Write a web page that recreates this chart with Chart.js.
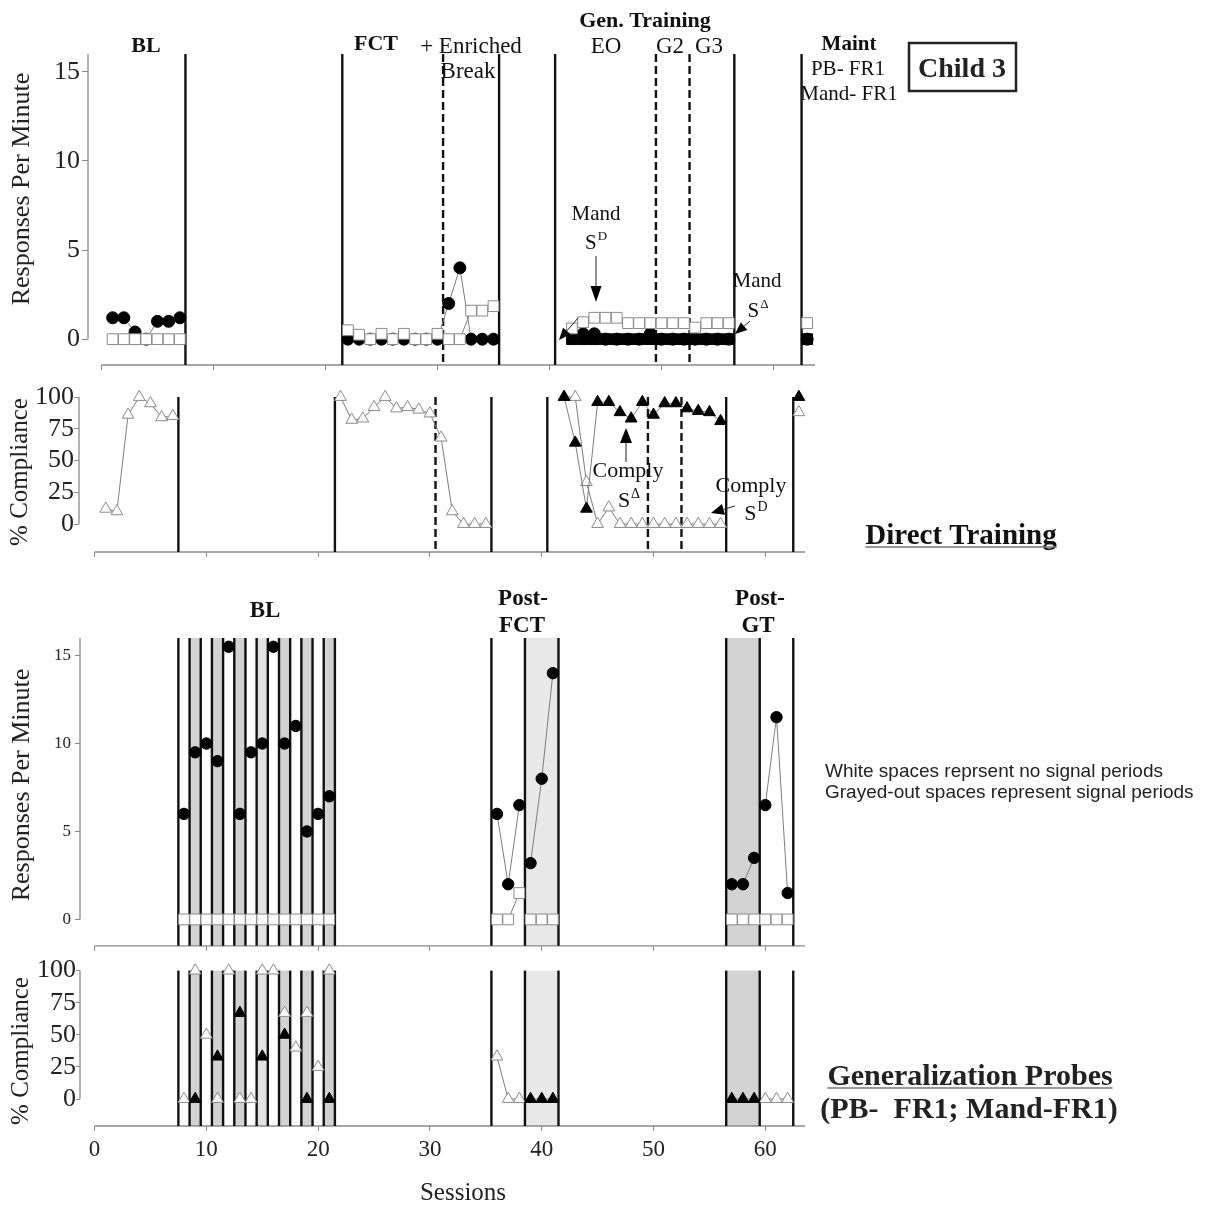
<!DOCTYPE html>
<html>
<head>
<meta charset="utf-8">
<script src="https://cdn.jsdelivr.net/npm/chart.js@4.4.0/dist/chart.umd.min.js"></script>
<style>
  html, body { margin: 0; padding: 0; background: #fff; }
  #page { position: relative; width: 1205px; height: 1207px; overflow: hidden; background: #fff; }
  #page canvas { position: absolute; left: 0; }
</style>
</head>
<body>
<div id="page">
  <canvas id="dtRate" width="1205" height="390" style="top:0px"></canvas>
  <canvas id="dtComply" width="1205" height="200" style="top:370px"></canvas>
  <canvas id="gpRate" width="1205" height="400" style="top:560px"></canvas>
  <canvas id="gpComply" width="1205" height="252" style="top:955px"></canvas>
</div>
<script>
// ---- ticks ----
const xTicks = [0, 10, 20, 30, 40, 50, 60];
const rateTicks = [0, 5, 10, 15];
const complyTicks = [0, 25, 50, 75, 100];

// ---- direct training: sessions per phase ----
const dtBLSessions = [1, 2, 3, 4, 5, 6, 7];
const dtFCTSessions = [22, 23, 24, 25, 26, 27, 28, 29, 30, 31, 32, 33, 34, 35];
const dtGTSessions = [42, 43, 44, 45, 46, 47, 48, 49, 50, 51, 52, 53, 54, 55, 56];
const dtMaintSessions = [63];

// problem behaviour per minute (filled circles)
const pbBL = [1.2, 1.2, 0.4, 0, 1.0, 1.0, 1.2];
const pbFCT = [0, 0, 0, 0, 0, 0, 0, 0, 0, 2.0, 4.0, 0, 0, 0];
const pbGT = [0.3, 0.3, 0.3, 0, 0, 0, 0, 0.3, 0, 0, 0, 0, 0, 0, 0];
const pbMaint = [0];

// mands per minute in SD (open squares)
const mandBL = [0, 0, 0, 0, 0, 0, 0];
const mandFCT = [0.5, 0.25, 0, 0.3, 0, 0.3, 0, 0, 0.3, 0, 0, 1.6, 1.6, 1.85];
const mandGTsd = [0.6, 0.95, 1.2, 1.2, 1.2, 0.9, 0.9, 0.9, 0.9, 0.9, 0.9, 0.65, 0.9, 0.9, 0.9];
const mandMaintSd = [0.9];

// mands per minute in S-delta (filled squares)
const mandGTsdelta = [0, 0, 0, 0, 0, 0, 0, 0, 0, 0, 0, 0, 0, 0, 0];
const mandMaintSdelta = [0];

// % compliance (open triangles = SD / no signal, filled = S-delta)
const compBL = [12, 10, 86, 100, 95, 84, 85];
const compFCT = [100, 82, 83, 92, 100, 91, 92, 90, 87, 68, 10, 0, 0, 0];
const compGTsd = [100, 100, 33, 0, 13, 0, 0, 0, 0, 0, 0, 0, 0, 0, 0];
const compGTsdelta = [100, 64, 12, 96, 96, 88, 83, 96, 86, 95, 95, 91, 89, 88, 81];
const compMaintSd = [88];
const compMaintSdelta = [100];

// ---- generalization probes ----
const gpBLSessions = [8, 9, 10, 11, 12, 13, 14, 15, 16, 17, 18, 19, 20, 21];
const gpBLRate = [6, 9.5, 10, 9, 15.5, 6, 9.5, 10, 15.5, 10, 11, 5, 6, 7];
const gpBLMand = [0, 0, 0, 0, 0, 0, 0, 0, 0, 0, 0, 0, 0, 0];
const gpBLComp = [0, 100, 50, 0, 100, 0, 0, 100, 100, 67, 40, 67, 25, 100];
const gpBLSignalSessions = [9, 11, 13, 15, 17, 19, 21];
const gpBLSignalComp = [0, 33, 67, 33, 50, 0, 0];

const postFCTNoSigSessions = [36, 37, 38];
const postFCTSigSessions = [39, 40, 41];
const postGTSigSessions = [57, 58, 59];
const postGTNoSigSessions = [60, 61, 62];

const postFCTNoSigRate = [6, 2, 6.5];
const postFCTSigRate = [3.2, 8, 14];
const postGTSigRate = [2, 2, 3.5];
const postGTNoSigRate = [6.5, 11.5, 1.5];

const postFCTNoSigMand = [0, 0, 1.5];
const postFCTSigMand = [0, 0, 0];
const postGTSigMand = [0, 0, 0];
const postGTNoSigMand = [0, 0, 0];

const postFCTNoSigComp = [33, 0, 0];
const postFCTSigComp = [0, 0, 0];
const postGTSigComp = [0, 0, 0];
const postGTNoSigComp = [0, 0, 0];

// ---- phase / condition change lines ----
const dtPhaseLines = [7.5, 21.5, 35.5, 40.5, 56.5, 62.5];
const dtConditionLines = [30.5, 49.5, 52.5];
const gpPhaseLines = [7.5, 8.5, 9.5, 10.5, 11.5, 12.5, 13.5, 14.5, 15.5, 16.5, 17.5, 18.5, 19.5, 20.5, 21.5,
                      35.5, 38.5, 41.5, 56.5, 59.5, 62.5];
const gpSignalSpans = [[8.5, 9.5], [10.5, 11.5], [12.5, 13.5], [14.5, 15.5], [16.5, 17.5], [18.5, 19.5],
                       [20.5, 21.5], [38.5, 41.5], [56.5, 59.5]];

const serif = "'Liberation Serif', 'Times New Roman', serif";
const sans = "'Liberation Sans', Arial, sans-serif";
const shadeColors = ['#d2d2d2', '#d2d2d2', '#d2d2d2', '#e2e2e2', '#d2d2d2', '#d2d2d2', '#d2d2d2', '#e8e8e8', '#d3d3d3'];

function seg(sessions, values) {
    return sessions.map((s, i) => ({ x: s, y: values[i] }));
}

function joinSegs(...segs) {
    const out = [];
    segs.forEach((sg, i) => {
        if (i) out.push({ x: sg[0].x - 0.5, y: null });
        out.push(...sg);
    });
    return out;
}

const marks = {
    circle: { shape: 'circle', r: 6, fill: '#000', edge: '#000' },
    openSquare: { shape: 'rect', r: 7.6, fill: '#fff', edge: '#8a8a8a' },
    square: { shape: 'rect', r: 7.6, fill: '#000', edge: '#000' },
    openTri: { shape: 'triangle', r: 6.8, fill: '#fff', edge: '#8a8a8a' },
    tri: { shape: 'triangle', r: 6.8, fill: '#000', edge: '#000' }
};

function series(data, mark, showLine = true, r) {
    const m = marks[mark];
    return {
        data: data,
        showLine: showLine,
        borderColor: '#7c7c7c',
        borderWidth: 1,
        pointStyle: m.shape,
        pointRadius: r || m.r,
        pointBackgroundColor: m.fill,
        pointBorderColor: m.edge,
        pointBorderWidth: 1,
        spanGaps: false,
        clip: false
    };
}

function axes(c) {
    return {
        x: {
            type: 'linear', min: c.xmin, max: c.xmax,
            border: { display: false },
            grid: { display: true, drawOnChartArea: false, drawTicks: true, tickLength: 5, color: '#8a8a8a' },
            ticks: { display: !!c.xLabels, font: { family: serif, size: 23 }, color: '#222', padding: 5 },
            afterBuildTicks: s => { s.ticks = xTicks.map(v => ({ value: v })); },
            afterFit: s => { s.height = c.xh; }
        },
        y: {
            type: 'linear', min: c.ymin, max: c.ymax,
            border: { display: false },
            grid: { display: true, drawOnChartArea: false, drawTicks: true, tickLength: c.tl, color: '#8a8a8a' },
            ticks: { font: { family: serif, size: c.ysize }, color: '#222', padding: c.ypad },
            afterBuildTicks: s => { s.ticks = c.yTicks.map(v => ({ value: v })); },
            afterFit: s => { s.width = c.yw; }
        }
    };
}

function drawText(ctx, it, dy) {
    ctx.save();
    const size = it.size || 22;
    const color = it.color || '#111';
    const font = (it.bold ? 'bold ' : '') + size + 'px ' + (it.family || serif);
    ctx.fillStyle = color;
    ctx.font = font;
    ctx.textBaseline = 'alphabetic';
    const y = it.y - dy;
    if (it.rot) {
        ctx.translate(it.x, y);
        ctx.rotate(-Math.PI / 2);
        ctx.textAlign = 'center';
        ctx.fillText(it.t, 0, 0);
        ctx.restore();
        return;
    }
    const w = ctx.measureText(it.t).width;
    let supW = 0;
    const supFont = Math.round(size * 0.62) + 'px ' + serif;
    if (it.sup) {
        ctx.font = supFont;
        supW = ctx.measureText(it.sup).width + 1;
        ctx.font = font;
    }
    const left = it.align === 'left' ? it.x : it.x - (w + supW) / 2;
    ctx.textAlign = 'left';
    ctx.fillText(it.t, left, y);
    if (it.sup) {
        ctx.font = supFont;
        ctx.fillText(it.sup, left + w + 1, y - size * 0.42);
    }
    if (it.underline) {
        ctx.strokeStyle = '#777';
        ctx.lineWidth = 1.5;
        ctx.beginPath();
        ctx.moveTo(left, y + 3);
        ctx.lineTo(left + w, y + 3);
        ctx.stroke();
    }
    ctx.restore();
}

function drawArrow(ctx, a, dy) {
    const x1 = a.from[0], y1 = a.from[1] - dy, x2 = a.to[0], y2 = a.to[1] - dy;
    const ang = Math.atan2(y2 - y1, x2 - x1);
    const L = a.head || 14, W = a.w || 5.5;
    const bx = x2 - L * Math.cos(ang), by = y2 - L * Math.sin(ang);
    ctx.save();
    ctx.strokeStyle = '#222';
    ctx.fillStyle = '#000';
    ctx.lineWidth = 1;
    ctx.beginPath();
    ctx.moveTo(x1, y1);
    ctx.lineTo(bx, by);
    ctx.stroke();
    ctx.beginPath();
    ctx.moveTo(x2, y2);
    ctx.lineTo(bx - W * Math.sin(ang), by + W * Math.cos(ang));
    ctx.lineTo(bx + W * Math.sin(ang), by - W * Math.cos(ang));
    ctx.closePath();
    ctx.fill();
    ctx.restore();
}

const decor = {
    id: 'decor',
    beforeDatasetsDraw(chart, args, o) {
        const { ctx, chartArea: a, scales: { x, y } } = chart;
        ctx.save();
        (o.shades || []).forEach((sp, i) => {
            const x1 = x.getPixelForValue(sp[0]), x2 = x.getPixelForValue(sp[1]);
            ctx.fillStyle = shadeColors[i];
            ctx.fillRect(x1, a.top, x2 - x1, a.bottom - a.top);
        });
        // detached axis lines
        ctx.strokeStyle = '#8a8a8a';
        ctx.lineWidth = 1.3;
        ctx.beginPath();
        ctx.moveTo(a.left, a.top);
        ctx.lineTo(a.left, y.getPixelForValue(0));
        ctx.moveTo(x.getPixelForValue(0), a.bottom);
        ctx.lineTo(a.right, a.bottom);
        ctx.stroke();
        // phase change lines
        ctx.strokeStyle = '#111';
        ctx.lineWidth = 2.4;
        (o.lines || []).forEach(v => {
            const px = x.getPixelForValue(v);
            ctx.beginPath();
            ctx.moveTo(px, a.top);
            ctx.lineTo(px, a.bottom);
            ctx.stroke();
        });
        ctx.setLineDash([8, 4]);
        (o.dashed || []).forEach(v => {
            const px = x.getPixelForValue(v);
            ctx.beginPath();
            ctx.moveTo(px, a.top);
            ctx.lineTo(px, a.bottom);
            ctx.stroke();
        });
        ctx.restore();
    },
    afterDraw(chart, args, o) {
        const ctx = chart.ctx;
        const dy = o.top || 0;
        (o.texts || []).forEach(t => drawText(ctx, t, dy));
        (o.arrows || []).forEach(a => drawArrow(ctx, a, dy));
        (o.boxes || []).forEach(b => {
            ctx.save();
            ctx.strokeStyle = '#222';
            ctx.lineWidth = 2.5;
            ctx.strokeRect(b.x, b.y - dy, b.w, b.h);
            ctx.restore();
        });
    }
};

function makeChart(id, canvasH, area, scaleCfg, datasets, decorCfg) {
    return new Chart(document.getElementById(id), {
        type: 'scatter',
        data: { datasets: datasets },
        options: {
            responsive: false,
            animation: false,
            devicePixelRatio: 1,
            layout: { padding: { left: 0, right: 1205 - area.right, top: area.top, bottom: 0 } },
            plugins: { legend: { display: false }, tooltip: { enabled: false }, decor: decorCfg },
            scales: axes(Object.assign({ yw: area.left, xh: canvasH - area.bottom }, scaleCfg))
        },
        plugins: [decor]
    });
}

// ---- panel 1: direct training, responses per minute ----
makeChart('dtRate', 390, { left: 88, right: 815, top: 54, bottom: 365 },
    { xmin: -1.2, xmax: 63.7, ymin: -1.45, ymax: 16, yTicks: rateTicks, ysize: 26, tl: 6, ypad: 2 },
    [
        series(joinSegs(seg(dtBLSessions, mandBL), seg(dtFCTSessions, mandFCT), seg(dtGTSessions, mandGTsd),
            seg(dtMaintSessions, mandMaintSd)), 'openSquare'),
        series(joinSegs(seg(dtGTSessions, mandGTsdelta), seg(dtMaintSessions, mandMaintSdelta)), 'square'),
        series(joinSegs(seg(dtBLSessions, pbBL), seg(dtFCTSessions, pbFCT), seg(dtGTSessions, pbGT),
            seg(dtMaintSessions, pbMaint)), 'circle')
    ],
    {
        top: 0, lines: dtPhaseLines, dashed: dtConditionLines,
        texts: [
            { t: 'BL', x: 146, y: 52, bold: true, size: 22 },
            { t: 'FCT', x: 376, y: 50, bold: true, size: 22 },
            { t: '+ Enriched', x: 471, y: 53, size: 23 },
            { t: 'Break', x: 468, y: 78, size: 23 },
            { t: 'Gen. Training', x: 645, y: 27, bold: true, size: 22 },
            { t: 'EO', x: 606, y: 53, size: 23 },
            { t: 'G2', x: 670, y: 53, size: 23 },
            { t: 'G3', x: 709, y: 53, size: 23 },
            { t: 'Maint', x: 849, y: 50, bold: true, size: 21 },
            { t: 'PB- FR1', x: 848, y: 75, size: 21 },
            { t: 'Mand- FR1', x: 849, y: 100, size: 21 },
            { t: 'Child 3', x: 962, y: 77, bold: true, size: 28, color: '#222' },
            { t: 'Mand', x: 596, y: 220, size: 21 },
            { t: 'S', sup: 'D', x: 596, y: 249, size: 21 },
            { t: 'Mand', x: 757, y: 287, size: 21 },
            { t: 'S', sup: '\u0394', x: 758, y: 317, size: 21 },
            { t: 'Responses Per Minute', x: 29, y: 189, size: 26, rot: true, color: '#222' }
        ],
        arrows: [
            { from: [596, 256], to: [596, 302], head: 16, w: 5.5 },
            { from: [750, 321], to: [735, 334], head: 12, w: 5 },
            { from: [578, 318], to: [559, 340], head: 12, w: 5 }
        ],
        boxes: [{ x: 909, y: 43, w: 107, h: 48 }]
    });

// ---- panel 2: direct training, % compliance ----
makeChart('dtComply', 200, { left: 79, right: 805, top: 27, bottom: 182 },
    { xmin: -1.39, xmax: 63.55, ymin: -22, ymax: 100, yTicks: complyTicks, ysize: 26, tl: 5, ypad: 0 },
    [
        series(joinSegs(seg(dtGTSessions, compGTsdelta), seg(dtMaintSessions, compMaintSdelta)), 'tri'),
        series(joinSegs(seg(dtBLSessions, compBL), seg(dtFCTSessions, compFCT), seg(dtGTSessions, compGTsd),
            seg(dtMaintSessions, compMaintSd)), 'openTri')
    ],
    {
        top: 370, lines: dtPhaseLines, dashed: dtConditionLines,
        texts: [
            { t: 'Comply', x: 628, y: 477, size: 22 },
            { t: 'S', sup: '\u0394', x: 629, y: 507, size: 22 },
            { t: 'Comply', x: 751, y: 492, size: 22 },
            { t: 'S', sup: 'D', x: 756, y: 520, size: 22 },
            { t: 'Direct Training', x: 961, y: 544, bold: true, size: 29, underline: true },
            { t: '% Compliance', x: 27, y: 472, size: 25, rot: true, color: '#222' }
        ],
        arrows: [
            { from: [626, 462], to: [626, 428], head: 15, w: 6 },
            { from: [735, 506], to: [711, 513], head: 13, w: 5.5 }
        ]
    });

// ---- panel 3: generalization probes, responses per minute ----
makeChart('gpRate', 400, { left: 80, right: 805, top: 78, bottom: 389 },
    { xmin: -1.3, xmax: 63.55, ymin: -1.5, ymax: 16, yTicks: rateTicks, ysize: 17, tl: 5, ypad: 4 },
    [
        series(seg(gpBLSessions, gpBLMand), 'openSquare', false),
        series(joinSegs(seg(postFCTNoSigSessions, postFCTNoSigMand), seg(postFCTSigSessions, postFCTSigMand),
            seg(postGTSigSessions, postGTSigMand), seg(postGTNoSigSessions, postGTNoSigMand)), 'openSquare'),
        series(seg(gpBLSessions, gpBLRate), 'circle', false, 5.7),
        series(joinSegs(seg(postFCTNoSigSessions, postFCTNoSigRate), seg(postFCTSigSessions, postFCTSigRate),
            seg(postGTSigSessions, postGTSigRate), seg(postGTNoSigSessions, postGTNoSigRate)), 'circle', true, 5.7)
    ],
    {
        top: 560, lines: gpPhaseLines, shades: gpSignalSpans,
        texts: [
            { t: 'BL', x: 265, y: 617, bold: true, size: 23 },
            { t: 'Post-', x: 523, y: 605, bold: true, size: 23 },
            { t: 'FCT', x: 522, y: 632, bold: true, size: 23 },
            { t: 'Post-', x: 760, y: 605, bold: true, size: 23 },
            { t: 'GT', x: 758, y: 632, bold: true, size: 23 },
            { t: 'White spaces reprsent no signal periods', x: 825, y: 777, size: 19, family: sans, align: 'left', color: '#222' },
            { t: 'Grayed-out spaces represent signal periods', x: 825, y: 798, size: 19, family: sans, align: 'left', color: '#222' },
            { t: 'Responses Per Minute', x: 29, y: 785, size: 26, rot: true, color: '#222' }
        ]
    });

// ---- panel 4: generalization probes, % compliance ----
makeChart('gpComply', 252, { left: 80, right: 805, top: 15, bottom: 171 },
    { xmin: -1.3, xmax: 63.55, ymin: -21, ymax: 100, yTicks: complyTicks, ysize: 26, tl: 4, ypad: 0, xLabels: true },
    [
        series(seg(gpBLSignalSessions, gpBLSignalComp), 'tri', false),
        series(joinSegs(seg(postFCTSigSessions, postFCTSigComp), seg(postGTSigSessions, postGTSigComp)), 'tri'),
        series(seg(gpBLSessions, gpBLComp), 'openTri', false),
        series(joinSegs(seg(postFCTNoSigSessions, postFCTNoSigComp), seg(postGTNoSigSessions, postGTNoSigComp)), 'openTri')
    ],
    {
        top: 955, lines: gpPhaseLines, shades: gpSignalSpans,
        texts: [
            { t: 'Generalization Probes', x: 970, y: 1085, bold: true, size: 30, underline: true, color: '#222' },
            { t: '(PB-  FR1; Mand-FR1)', x: 969, y: 1118, bold: true, size: 30, color: '#222' },
            { t: 'Sessions', x: 463, y: 1200, size: 25, color: '#222' },
            { t: '% Compliance', x: 28, y: 1051, size: 25, rot: true, color: '#222' }
        ]
    });
</script>
</body>
</html>
